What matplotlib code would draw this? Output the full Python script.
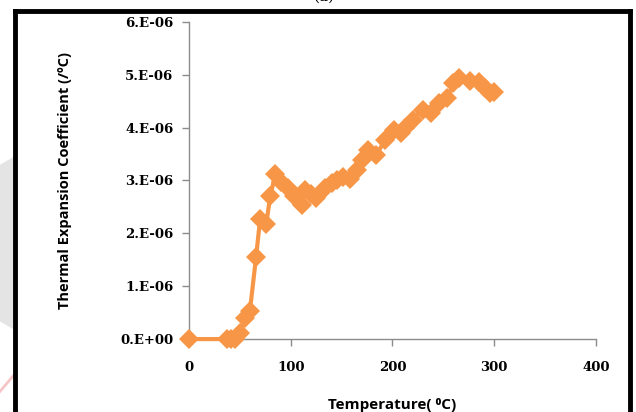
import numpy as np
import matplotlib.pyplot as plt
from matplotlib.lines import Line2D
from matplotlib.patches import Polygon

# thermal expansion coefficient vs temperature
temp = [0, 37, 41, 45, 50, 55, 60, 66, 70, 76, 80, 85, 91, 97, 103, 111, 114,
        120, 125, 134, 141, 146, 151, 158, 165, 170, 176, 184, 193, 202, 208,
        212, 220, 230, 238, 246, 254, 260, 265, 276, 285, 291, 296, 300]
alpha = [0.0, 0.0, 0.0, 0.0, 0.12, 0.4, 0.54, 1.55, 2.27, 2.18, 2.71, 3.12,
         2.97, 2.86, 2.70, 2.54, 2.82, 2.75, 2.67, 2.86, 2.95, 3.0, 3.07, 3.02,
         3.2, 3.39, 3.58, 3.48, 3.77, 3.96, 3.9, 4.0, 4.15, 4.34, 4.28, 4.47,
         4.56, 4.85, 4.93, 4.88, 4.86, 4.75, 4.65, 4.67]
alpha = np.array(alpha) * 1e-6

xticks = [0, 100, 200, 300, 400]
yticks = [0, 1e-6, 2e-6, 3e-6, 4e-6, 5e-6, 6e-6]
ytick_labels = ['0.E+00', '1.E-06', '2.E-06', '3.E-06', '4.E-06', '5.E-06', '6.E-06']

orange = '#F79646'
grey = '#8c8c8c'

fig = plt.figure(figsize=(6.36, 4.12), dpi=100)

# faint shape behind the frame on the left
fig.patches.append(Polygon([[0, 0.22], [0.022, 0.20], [0.022, 0.62], [0, 0.60]],
                           closed=True, transform=fig.transFigure,
                           facecolor='#e4e4e4', edgecolor='none', zorder=0))
fig.add_artist(Line2D([0, 0.022], [0.05, 0.09], transform=fig.transFigure,
                      color='#f6c6c6', lw=2, zorder=0))

ax = fig.add_axes([0.297, 0.177, 0.640, 0.770])
ax.plot(temp, alpha, color=orange, lw=3, marker='D', markersize=10.5,
        markeredgewidth=0, clip_on=False, zorder=3)

ax.set_xlim(0, 400)
ax.set_ylim(0, 6e-6)
ax.set_xticks(xticks)
ax.set_yticks(yticks)
ax.set_yticklabels(ytick_labels)

for s in ['top', 'right']:
    ax.spines[s].set_visible(False)
for s in ['left', 'bottom']:
    ax.spines[s].set_color(grey)
    ax.spines[s].set_linewidth(1)

ax.tick_params(axis='both', direction='out', length=5, color=grey, width=1)
ax.tick_params(axis='x', pad=11)
ax.tick_params(axis='y', pad=6)
for lbl in ax.get_xticklabels() + ax.get_yticklabels():
    lbl.set_family('DejaVu Serif')
    lbl.set_fontweight('bold')
    lbl.set_fontsize(9.5)

ax.set_xlabel('Temperature( \u2070C)', family=['Open Sans', 'DejaVu Sans'],
              fontweight='bold', fontsize=11, labelpad=17)
ax.set_ylabel('Thermal Expansion Coefficient (/\u00baC)',
              family=['Open Sans', 'DejaVu Sans'], fontweight='bold',
              fontsize=10.5, labelpad=35)

# black frame around the chart (bottom edge runs off the canvas)
frame = dict(transform=fig.transFigure, color='black', lw=3.5, zorder=5,
             solid_capstyle='projecting')
fig.add_artist(Line2D([0.024, 0.024], [0.0, 0.973], **frame))
fig.add_artist(Line2D([0.024, 0.991], [0.973, 0.973], **frame))
fig.add_artist(Line2D([0.991, 0.991], [0.973, 0.0], **frame))

fig.text(0.51, 0.992, '(a)', ha='center', va='bottom', fontsize=11,
         family='DejaVu Serif')

fig.savefig('out.png', dpi=100)
